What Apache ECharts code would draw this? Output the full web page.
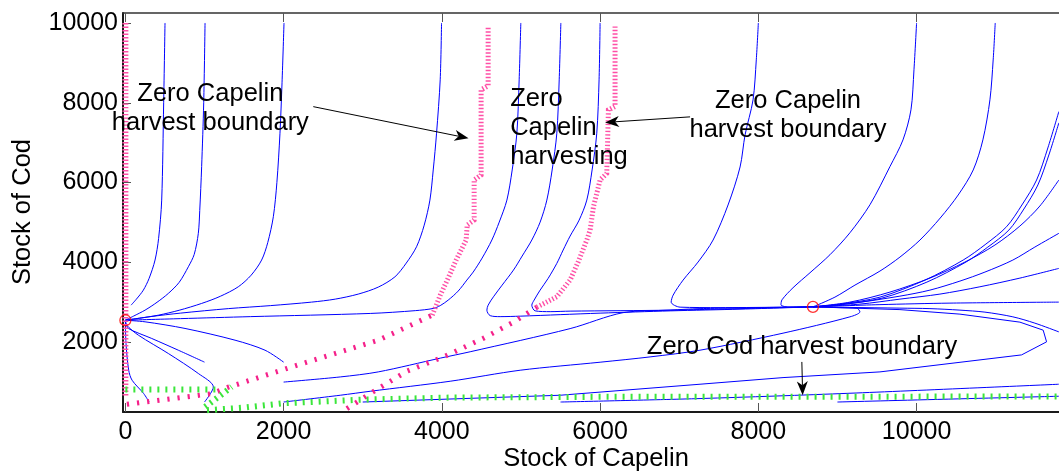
<!DOCTYPE html>
<html>
<head>
<meta charset="utf-8">
<script src="https://cdn.jsdelivr.net/npm/echarts@6/dist/echarts.min.js"></script>
<style>
  html, body { margin: 0; padding: 0; background: #fff; }
  #chart { width: 1059px; height: 473px; }
</style>
</head>
<body>
<div id="chart"></div>
<script>
// Axis ticks
const capelinTicks = [0, 2000, 4000, 6000, 8000, 10000];
const codTicks = [2000, 4000, 6000, 8000, 10000];

// Steady states [capelin, cod]
const equilibria = [[0, 2550], [8690, 2885]];

// Optimal trajectories, points are [stock of capelin, stock of cod]
const trajA = [[501, 10000], [484, 8000], [459, 5561], [420, 4600], [375, 4058], [300, 3600], [227, 3304], [140, 3080], [72, 2928]];
const trajB = [[1007, 10000], [990, 8000], [964, 6399], [940, 5300], [922, 4728], [870, 4200], [796, 3890], [680, 3500], [543, 3222], [400, 3000], [249, 2803], [100, 2650], [0, 2550]];
const trajC = [[2005, 10000], [1980, 8500], [1954, 7237], [1915, 6000], [1870, 5144], [1800, 4500], [1722, 4058], [1590, 3680], [1427, 3388], [1200, 3150], [964, 2971], [680, 2800], [417, 2677], [180, 2600], [0, 2550]];
const trajD = [[3996, 10000], [3979, 8575], [3933, 7237], [3891, 6316], [3849, 5561], [3777, 4933], [3680, 4391], [3550, 3982], [3407, 3638], [3196, 3380], [2943, 3205], [2653, 3079], [2353, 3004], [1832, 2916], [1301, 2841], [695, 2728], [316, 2640], [0, 2550]];
const trajE = [[4998, 10000], [4977, 8575], [4948, 7237], [4889, 6316], [4822, 5561], [4725, 5009], [4632, 4560], [4509, 4108], [4396, 3757], [4316, 3556], [4206, 3280], [4080, 3054], [3979, 2916], [3891, 2845], [3664, 2790], [3095, 2720], [1579, 2640], [695, 2590], [0, 2550]];
const trajG = [[5504, 10000], [5483, 8575], [5453, 7237], [5394, 6316], [5327, 5561], [5242, 5009], [5137, 4560], [5015, 4159], [4905, 3807], [4762, 3430], [4652, 3137], [4585, 2928], [4569, 2803], [4611, 2665], [4737, 2640], [4990, 2652], [5495, 2690], [6000, 2728], [6893, 2785], [7781, 2828], [8690, 2885]];
const trajH = [[6000, 10000], [5987, 8575], [5958, 7237], [5899, 6316], [5832, 5561], [5735, 5059], [5621, 4660], [5533, 4309], [5453, 3975], [5343, 3598], [5242, 3305], [5166, 3054], [5137, 2928], [5179, 2785], [5369, 2765], [5621, 2778], [6884, 2803], [8690, 2885]];
const trajI = [[8000, 10000], [7974, 9075], [7933, 8073], [7832, 7194], [7769, 6391], [7617, 5438], [7428, 4560], [7238, 4008], [7049, 3556], [6923, 3179], [6898, 3004], [7011, 2878], [7516, 2866], [8690, 2885]];
const trajJ = [[10000, 10000], [9967, 8827], [9929, 7823], [9828, 7070], [9663, 6399], [9411, 5445], [9158, 4743], [8905, 4191], [8653, 3740], [8438, 3364], [8299, 3062], [8286, 2937], [8400, 2878], [8690, 2885]];
const trajK = [[10994, 10000], [10968, 9073], [10927, 8073], [10838, 7070], [10716, 6316], [10526, 5689], [10299, 5112], [10043, 4560], [9790, 4133], [9537, 3782], [9221, 3430], [8968, 3129], [8690, 2885]];
const trajU1 = [[11798, 7779], [11659, 6868], [11517, 6065], [11331, 5438], [11137, 4893], [10876, 4459], [10589, 4058], [10106, 3556], [9537, 3129], [9032, 2954], [8690, 2885]];
const trajU2 = [[11798, 7496], [11672, 6692], [11533, 5940], [11356, 5337], [11167, 4810], [10901, 4384], [10624, 4008], [10131, 3506], [9562, 3104], [9032, 2941], [8690, 2885]];
const trajU3 = [[11798, 6065], [11558, 5412], [11306, 4911], [10990, 4434], [10611, 4008], [10169, 3606], [9663, 3255], [9158, 3004], [8690, 2885]];
const trajU4 = [[11798, 4728], [11495, 4384], [11217, 4058], [10864, 3757], [10548, 3531], [10169, 3305], [9790, 3154], [9158, 2966], [8690, 2885]];
const trajU5 = [[11798, 3849], [11306, 3606], [10800, 3388], [10295, 3205], [9790, 3079], [9284, 2954], [8690, 2885]];
const trajU6 = [[11798, 3004], [10422, 2979], [9537, 2941], [8690, 2885]];
const trajU7 = [[11798, 2258], [11495, 2477], [11217, 2635], [10864, 2753], [10548, 2803], [10169, 2841], [9790, 2853], [9158, 2871], [8690, 2885]];
const trajL = [[2000, 500], [2716, 670], [3095, 770], [4105, 1021], [4990, 1297], [6000, 1498], [6632, 1631], [7263, 1799], [8312, 2226], [9158, 2635], [9284, 2760], [9243, 2853], [9032, 2866], [8690, 2885]];
const trajM = [[2000, 1000], [2716, 1129], [3196, 1255], [3980, 1600], [4358, 1760], [5621, 2340], [6291, 2740], [6884, 2803], [7263, 2841], [8690, 2885]];
const trajN = [[1000, 1500], [669, 1799], [333, 2093], [38, 2343], [8, 2460], [0, 2550]];
const trajO = [[2000, 1500], [1765, 1799], [1386, 2050], [754, 2344], [249, 2510], [0, 2550]];
const trajP = [[1000, 500], [1112, 878], [922, 1215], [543, 1716], [164, 2176], [16, 2427], [0, 2550]];
const trajQ = [[300, 500], [231, 713], [85, 1046], [42, 1297], [8, 1967], [0, 2550]];
const trajR = [[3000, 500], [5495, 670], [7263, 946], [8312, 1112], [9537, 1255], [11327, 1681], [11643, 2008], [11600, 2301], [11306, 2502], [10548, 2703], [9790, 2816], [8690, 2885]];
const trajS = [[5500, 500], [7263, 587], [9158, 720], [11798, 946]];
const trajT = [[9000, 500], [11798, 645]];

// Zero capelin harvest boundaries
const capelinZeroAxis = [[0, 10000], [0, 650]];
const capelinZeroLowA = [[19, 445], [1086, 708], [1301, 871], [2210, 1448], [3196, 2050], [3879, 2677]];
const capelinZeroHighA = [[3879, 2677], [3980, 3179], [4080, 3606], [4181, 4058], [4307, 4560], [4320, 4936], [4408, 5061], [4408, 6065], [4496, 6191], [4496, 8325], [4585, 8426], [4585, 9907]];
const capelinZeroLowB = [[2800, 336], [3095, 713], [3558, 1272], [4042, 1649], [4526, 2100], [4905, 2502], [5200, 2878]];
const capelinZeroHighB = [[5200, 2878], [5453, 3137], [5621, 3556], [5722, 4008], [5832, 4560], [5874, 4811], [5916, 5394], [6000, 6065], [6084, 6232], [6105, 7821], [6189, 7905], [6189, 9912]];

// Zero cod harvest boundary
const codZeroUpper = [[0, 813], [1150, 813]];
const codZeroDiag = [[1007, 376], [1343, 878]];
const codZeroLower = [[1032, 294], [1500, 360], [2000, 470], [3000, 560], [4100, 612], [6000, 630], [8000, 630], [11800, 640]];

const trajectories = [trajA, trajB, trajC, trajD, trajE, trajG, trajH, trajI, trajJ, trajK,
  trajU1, trajU2, trajU3, trajU4, trajU5, trajU6, trajU7, trajL, trajM, trajN, trajO, trajP, trajQ, trajS, trajT];

const FONT = '"Liberation Sans", Arial, Helvetica, sans-serif';
const BLUE = '#0000ff';
const PINK = '#f5218a';
const PINK_LIGHT = '#ff4fa6';
const GREEN = '#3be63b';

function pathSeries(data, smooth) {
  return {
    type: 'line', data: data, showSymbol: false, smooth: smooth, z: 2,
    lineStyle: { color: BLUE, width: 1 }, silent: true
  };
}
function tickSeries(data, color, width, dash) {
  return {
    type: 'line', data: data, showSymbol: false, z: 3, clip: false,
    lineStyle: { color: color, width: width, type: dash, cap: 'butt', join: 'miter' }, silent: true
  };
}

const series = trajectories.map(t => pathSeries(t, 0.3));
series.push(pathSeries(trajR, false));
series.push(tickSeries(capelinZeroAxis, PINK_LIGHT, 6, [1.4, 2.1]));
series.push(tickSeries(capelinZeroHighA, PINK_LIGHT, 5, [1.4, 2.1]));
series.push(tickSeries(capelinZeroHighB, PINK_LIGHT, 5, [1.4, 2.1]));
series.push(tickSeries(capelinZeroLowA, PINK, 5, [2.2, 8]));
series.push(tickSeries(capelinZeroLowB, PINK, 5, [2.2, 8]));
series.push(tickSeries(codZeroUpper, GREEN, 6, [2, 6]));
series.push(tickSeries(codZeroDiag, GREEN, 6, [2, 4.5]));
series.push(tickSeries(codZeroLower, GREEN, 6, [2, 6]));
series.push({
  type: 'scatter', data: equilibria, symbol: 'circle', symbolSize: 11, z: 5, silent: true,
  itemStyle: { color: 'rgba(0,0,0,0)', borderColor: '#ff0000', borderWidth: 1.3 }
});

const labelStyle = { fontFamily: FONT, fontSize: 25, color: '#000' };
const fmt = v => String(v);

const option = {
  animation: false,
  backgroundColor: '#fff',
  grid: { left: 123, right: 0, top: 13, bottom: 61, containLabel: false },
  xAxis: [
    {
      type: 'value', min: -30, max: 11800, position: 'bottom',
      axisLine: { show: true, onZero: false, lineStyle: { color: '#1a1a1a', width: 2 } },
      axisTick: { show: true, inside: true, length: 9, customValues: capelinTicks, lineStyle: { color: '#555', width: 1 } },
      axisLabel: Object.assign({ customValues: capelinTicks, margin: 8, formatter: fmt }, labelStyle),
      splitLine: { show: false }
    },
    {
      type: 'value', min: -30, max: 11800, position: 'top',
      axisLine: { show: true, onZero: false, lineStyle: { color: '#333', width: 1.5 } },
      axisTick: { show: true, inside: true, length: 9, customValues: capelinTicks, lineStyle: { color: '#555', width: 1 } },
      axisLabel: { show: false },
      splitLine: { show: false }
    }
  ],
  yAxis: [{
    type: 'value', min: 250, max: 10250,
    axisLine: { show: true, onZero: false, lineStyle: { color: '#1a1a1a', width: 2 } },
    axisTick: { show: true, inside: true, length: 8, customValues: codTicks, lineStyle: { color: '#555', width: 1 } },
    axisLabel: Object.assign({ customValues: codTicks, margin: 5, formatter: fmt }, labelStyle),
    splitLine: { show: false }
  }],
  series: series
};

const chart = echarts.init(document.getElementById('chart'), null, { renderer: 'canvas' });
chart.setOption(option);

// Annotations placed in data space
const notes = [
  { text: 'Zero Capelin\nharvest boundary', at: [1074, 7850], align: 'center' },
  { text: 'Zero\nCapelin\nharvesting', at: [4863, 7370], align: 'left' },
  { text: 'Zero Capelin\nharvest boundary', at: [8375, 7671], align: 'center' },
  { text: 'Zero Cod harvest boundary', at: [8552, 1880], align: 'center' }
];
const arrows = [
  { from: [2375, 7903], to: [4337, 7111] },
  { from: [7137, 7647], to: [6063, 7507] },
  { from: [8550, 1505], to: [8560, 670] }
];

function toPx(p) { return chart.convertToPixel({ xAxisIndex: 0, yAxisIndex: 0 }, p); }

const graphics = [];
notes.forEach(n => {
  const p = toPx(n.at);
  graphics.push({
    type: 'text', x: p[0], y: p[1], z: 10, silent: true,
    style: {
      text: n.text, font: '25.5px ' + FONT, fill: '#000', lineHeight: 29,
      align: n.align, verticalAlign: 'middle', textAlign: n.align, textVerticalAlign: 'middle'
    }
  });
});
arrows.forEach(a => {
  const p0 = toPx(a.from), p1 = toPx(a.to);
  const dx = p1[0] - p0[0], dy = p1[1] - p0[1];
  const len = Math.hypot(dx, dy);
  const ux = dx / len, uy = dy / len, nx = -uy, ny = ux;
  const L = 14, W = 5.5;
  const bx = p1[0] - ux * L, by = p1[1] - uy * L;
  const notch = [p1[0] - ux * L * 0.72, p1[1] - uy * L * 0.72];
  graphics.push({
    type: 'line', z: 10, silent: true,
    shape: { x1: p0[0], y1: p0[1], x2: notch[0], y2: notch[1] },
    style: { stroke: '#000', lineWidth: 1 }
  });
  graphics.push({
    type: 'polygon', z: 10, silent: true,
    shape: { points: [[p1[0], p1[1]], [bx + nx * W, by + ny * W], notch, [bx - nx * W, by - ny * W]] },
    style: { fill: '#000' }
  });
});
// Axis titles
graphics.push({
  type: 'text', x: 596, y: 459, z: 10, silent: true,
  style: { text: 'Stock of Capelin', font: '25.5px ' + FONT, fill: '#000', align: 'center', verticalAlign: 'middle', textAlign: 'center', textVerticalAlign: 'middle' }
});
graphics.push({
  type: 'text', x: 23, y: 212, rotation: Math.PI / 2, z: 10, silent: true,
  style: { text: 'Stock of Cod', font: '25.5px ' + FONT, fill: '#000', align: 'center', verticalAlign: 'middle', textAlign: 'center', textVerticalAlign: 'middle' }
});
chart.setOption({ graphic: { elements: graphics } });
</script>
</body>
</html>
